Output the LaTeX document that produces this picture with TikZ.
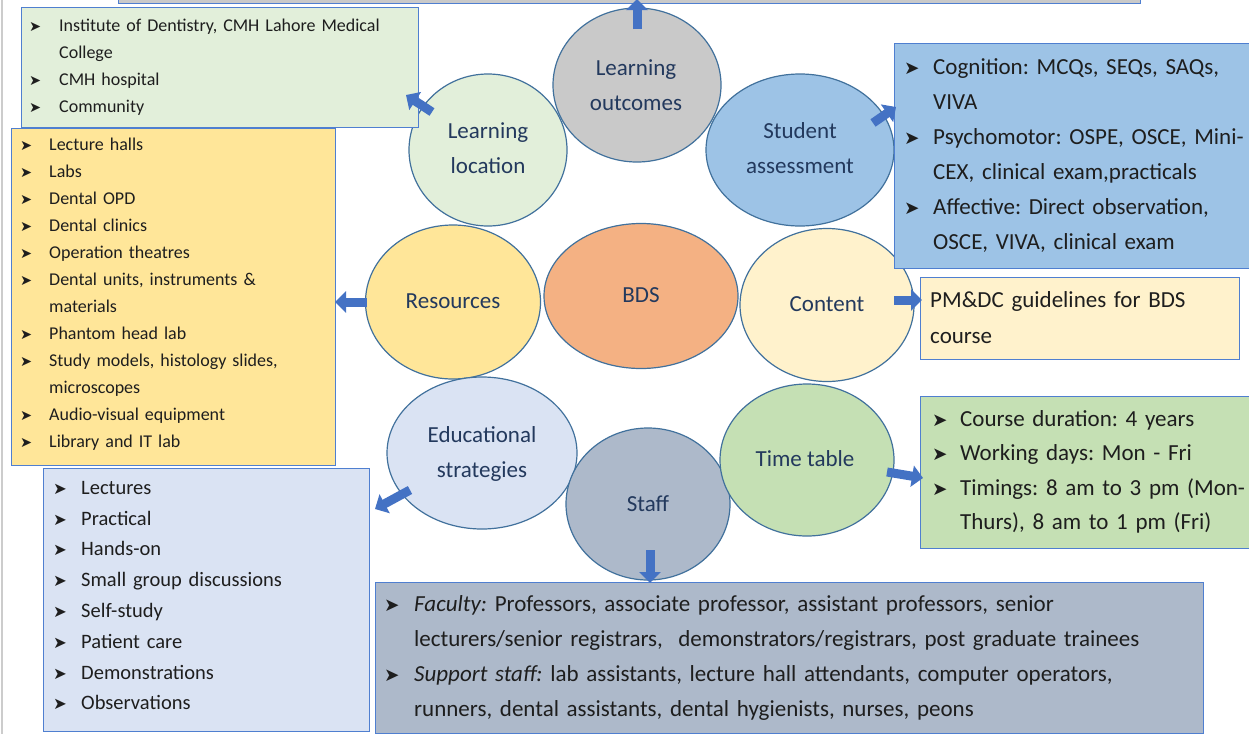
\documentclass[tikz,border=0pt]{standalone}
\usepackage{fontspec}
\setmainfont{Carlito}
\newfontfamily\dejavu{DejaVu Sans}
\usetikzlibrary{shapes.geometric,arrows.meta,calc}
\definecolor{arrowblue}{HTML}{4472C4}
\definecolor{boxedge}{HTML}{4F7FD0}
\definecolor{elledge}{HTML}{41719C}
\definecolor{navy}{HTML}{23395D}
\definecolor{txt}{HTML}{1E1E1E}
\definecolor{cgrey}{HTML}{C9C9C9}
\definecolor{cgreen}{HTML}{E2EFDA}
\definecolor{cblue}{HTML}{9DC3E6}
\definecolor{cyellow}{HTML}{FFE699}
\definecolor{corange}{HTML}{F4B183}
\definecolor{ccream}{HTML}{FFF2CC}
\definecolor{clblue}{HTML}{DAE3F3}
\definecolor{cslate}{HTML}{ADB9CA}
\definecolor{cmgreen}{HTML}{C5E0B4}
\newlength\tind
\newcommand\bull{\scalebox{0.8}{\dejavu ➤}}
\newcommand\bitem[1]{\noindent\hangindent=\tind\hangafter=1\makebox[\tind][l]{\bull}#1\par}
\tikzset{
  ell/.style={ellipse, draw=elledge, line width=1.2pt, inner sep=0pt},
  elab/.style={font=\fontsize{23}{35}\selectfont, align=center, text=navy, inner sep=0pt},
  box/.style={draw=boxedge, line width=1.2pt, inner sep=0pt, anchor=north west},
  btext/.style={anchor=north west, inner sep=0pt, text width=900pt, align=left, text=txt},
  barrow/.style={draw=arrowblue, line width=9pt, -{Triangle[width=21pt,length=11pt]}}
}
\begin{document}
\begin{tikzpicture}[x=1pt,y=-1pt]
\useasboundingbox (0,0) rectangle (1249,734);
\clip (0,0) rectangle (1249,734);
\fill[white] (0,0) rectangle (1249,734);
\draw[draw=black!20, line width=2pt] (1.5,0) -- (1.5,734);

% ellipses
\node[ell, fill=cgreen, minimum width=158pt, minimum height=152pt] (ll) at (488,150) {};
\node[ell, fill=cblue, minimum width=188pt, minimum height=152pt] (sa) at (800,150) {};
\node[ell, fill=cgrey, minimum width=168pt, minimum height=154pt] (lo) at (637,85) {};
\node[ell, fill=cyellow, minimum width=175pt, minimum height=154pt] (res) at (453,302) {};
\node[ell, fill=corange, minimum width=194pt, minimum height=145pt] (bds) at (641,296) {};
\node[ell, fill=ccream, minimum width=174pt, minimum height=153pt] (cont) at (827,305) {};
\node[ell, fill=clblue, minimum width=190pt, minimum height=152pt] (edu) at (482,453) {};
\node[ell, fill=cslate, minimum width=164pt, minimum height=152pt] (staff) at (648,504) {};
\node[ell, fill=cmgreen, minimum width=174pt, minimum height=152pt] (tt) at (807,460) {};

% ellipse labels
\node[elab] (lolab) at (636,86) {\strut Learning\\\strut outcomes};
\node[elab] (lllab) at (488,149) {\strut Learning\\\strut location};
\node[elab] (salab) at (800,149) {\strut Student\\\strut assessment};
\node[elab] (reslab) at (453,301) {\strut Resources};
\node[elab] (bdslab) at (641,295) {\strut BDS};
\node[elab] (contlab) at (827,304) {\strut Content};
\node[elab] (edulab) at (482,453) {\strut Educational\\\strut strategies};
\node[elab] (stafflab) at (648,504) {\strut Staff};
\node[elab] (ttlab) at (805,459) {\strut Time table};

% boxes
\node[box, fill=cgrey, minimum width=1022pt, minimum height=40pt, anchor=south west] (topbox) at (118,4) {};
\node[box, fill=cgreen, minimum width=397pt, minimum height=120pt] (llbox) at (21,7) {};
\node[box, fill=cyellow, minimum width=324pt, minimum height=337pt] (resbox) at (11,128) {};
\node[box, fill=clblue, minimum width=326pt, minimum height=263pt] (edubox) at (43,468) {};
\node[box, fill=cslate, minimum width=828pt, minimum height=151pt] (staffbox) at (375,582) {};
\node[box, fill=cblue, minimum width=370pt, minimum height=225pt] (sabox) at (894,43) {};
\node[box, fill=ccream, minimum width=319pt, minimum height=82pt] (contbox) at (920,277) {};
\node[box, fill=cmgreen, minimum width=340pt, minimum height=152pt] (ttbox) at (920,396) {};

% box texts
\node[btext, font=\fontsize{18}{27}\selectfont\frenchspacing] (lltext) at (29,19) {\setlength\tind{30pt}%
\bitem{Institute of Dentistry, CMH Lahore Medical\newline College}%
\bitem{CMH hospital}%
\bitem{Community}};

\node[btext, font=\fontsize{18}{27}\selectfont\frenchspacing] (restext) at (20,138) {\setlength\tind{29pt}%
\bitem{Lecture halls}%
\bitem{Labs}%
\bitem{Dental OPD}%
\bitem{Dental clinics}%
\bitem{Operation theatres}%
\bitem{Dental units, instruments \&\newline materials}%
\bitem{Phantom head lab}%
\bitem{Study models, histology slides,\newline microscopes}%
\bitem{Audio-visual equipment}%
\bitem{Library and IT lab}};

\node[btext, font=\fontsize{20.5}{30.8}\selectfont\frenchspacing] (edutext) at (53,481) {\setlength\tind{28pt}%
\bitem{Lectures}%
\bitem{Practical}%
\bitem{Hands-on}%
\bitem{Small group discussions}%
\bitem{Self-study}%
\bitem{Patient care}%
\bitem{Demonstrations}%
\bitem{Observations}};

\node[btext, font=\fontsize{23}{35}\selectfont\frenchspacing] (stafftext) at (384,595) {\setlength\tind{30pt}%
\bitem{\textit{Faculty:} Professors, associate professor, assistant professors, senior\newline lecturers/senior registrars,\ \ demonstrators/registrars, post graduate trainees}%
\bitem{\textit{Support staff:} lab assistants, lecture hall attendants, computer operators,\newline runners, dental assistants, dental hygienists, nurses, peons}};

\node[btext, font=\fontsize{23}{35}\selectfont\frenchspacing] (satext) at (904,58) {\setlength\tind{29pt}%
\bitem{Cognition: MCQs, SEQs, SAQs,\newline VIVA}%
\bitem{Psychomotor: OSPE, OSCE, Mini-\newline CEX, clinical exam,practicals}%
\bitem{Affective: Direct observation,\newline OSCE, VIVA, clinical exam}};

\node[btext, font=\fontsize{23}{36}\selectfont\frenchspacing] (conttext) at (930,291) {PM\&DC guidelines for BDS\\course};

\node[btext, font=\fontsize{23}{34.5}\selectfont\frenchspacing] (tttext) at (932,410) {\setlength\tind{28pt}%
\bitem{Course duration: 4 years}%
\bitem{Working days: Mon - Fri}%
\bitem{Timings: 8 am to 3 pm (Mon-\newline Thurs), 8 am to 1 pm (Fri)}};

% arrows
\draw[barrow] ($(lo.center)+(0,-56)$) -- ($(lo.center)+(0,-86)$);
\draw[barrow] ($(ll.center)+(-56,-38)$) -- ($(ll.center)+(-82,-55)$);
\draw[barrow] ($(sa.center)+(73,-27)$) -- ($(sa.center)+(96,-43)$);
\draw[barrow] ($(res.center)+(-86,0)$) -- ($(res.center)+(-118,0)$);
\draw[barrow] ($(cont.center)+(67,-5)$) -- ($(cont.center)+(95,-5)$);
\draw[barrow] ($(edu.center)+(-72,37)$) -- ($(edu.center)+(-107,56)$);
\draw[barrow] ($(tt.center)+(80,12)$) -- ($(tt.center)+(116,18)$);
\draw[barrow] ($(staff.center)+(2,46)$) -- ($(staff.center)+(2,79)$);
\end{tikzpicture}
\end{document}
